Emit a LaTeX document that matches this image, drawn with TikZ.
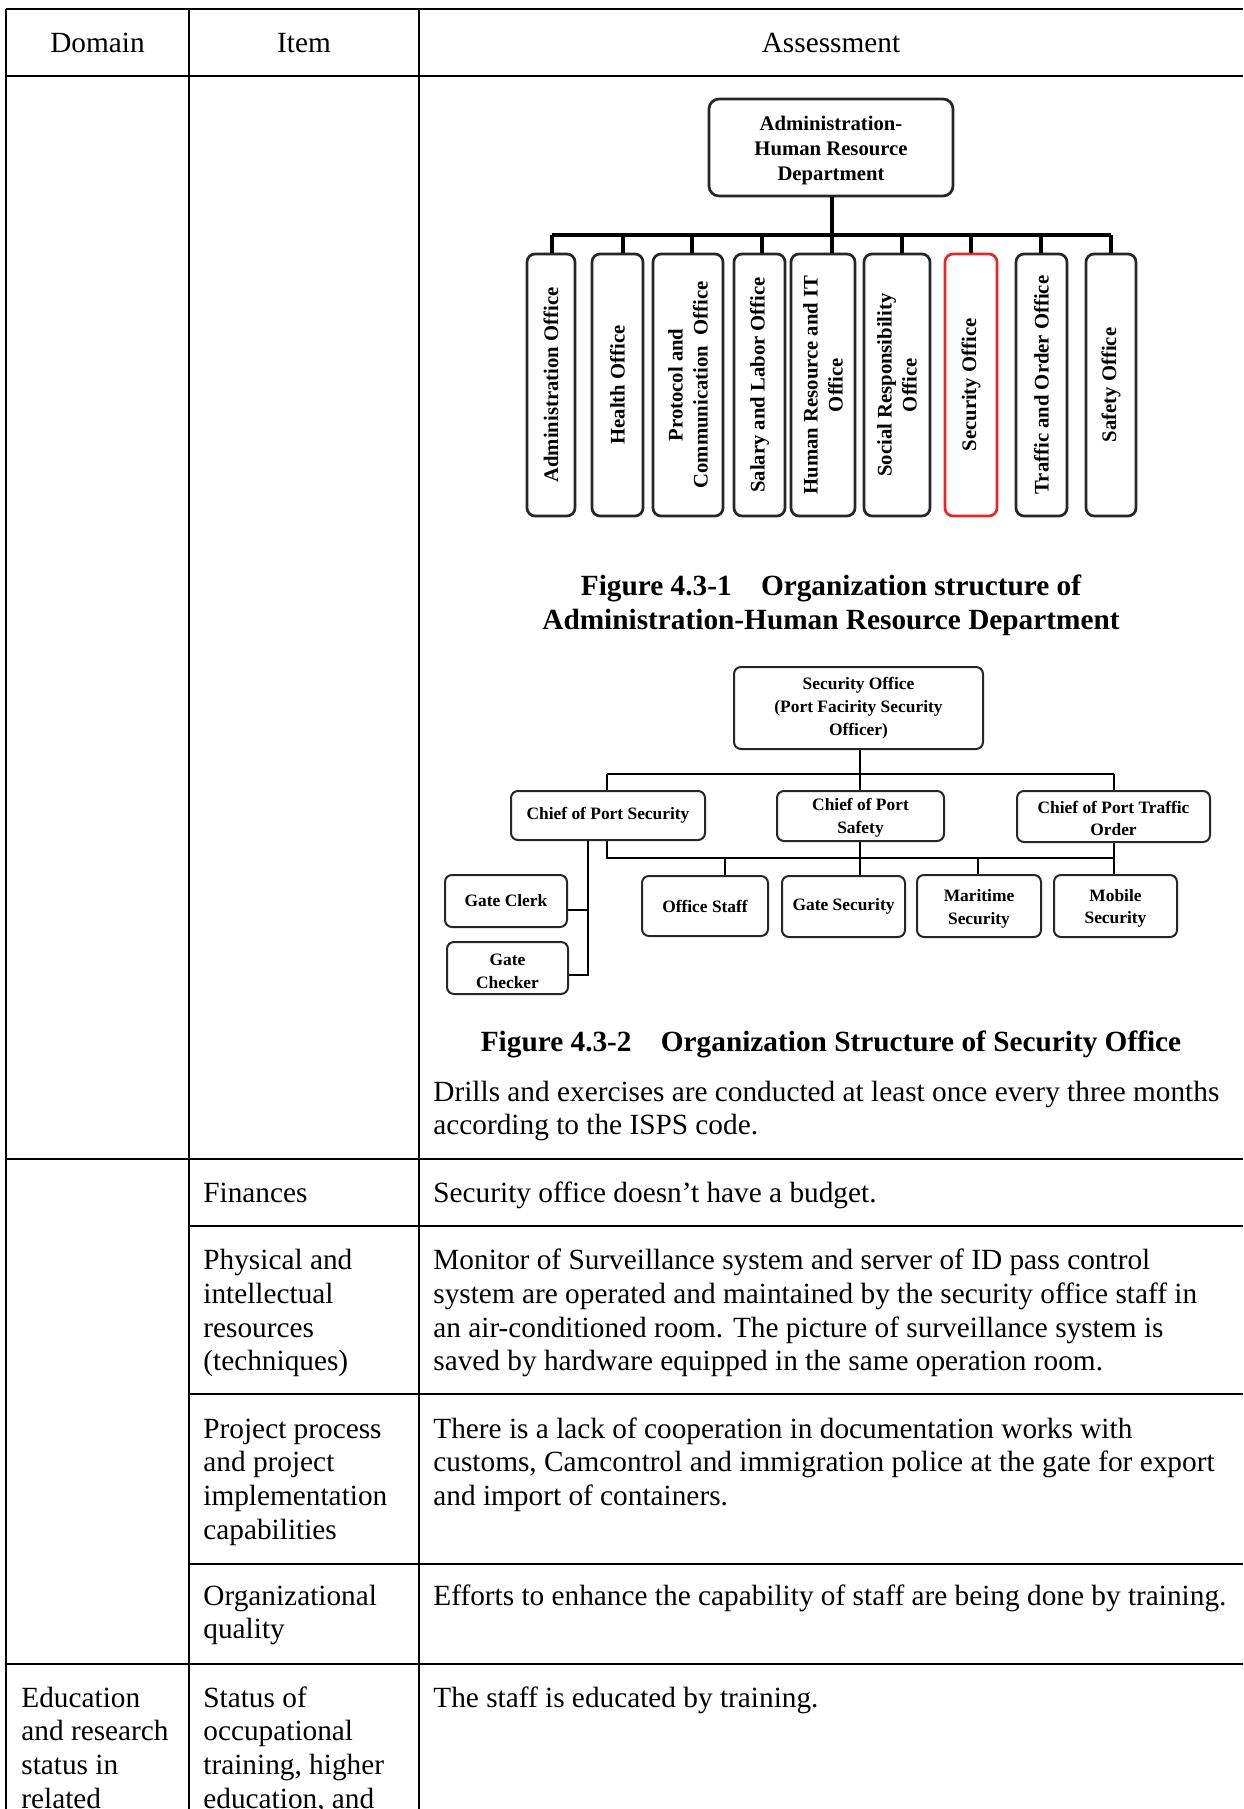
\documentclass[tikz,border=0pt]{standalone}
\usepackage{fontspec}
\setmainfont{Liberation Serif}
\definecolor{boxgray}{gray}{0.15}
\definecolor{secred}{RGB}{232,38,40}
% one text line per node: name prefix, x, first baseline, lines
\newcommand\celllines[4]{%
  \foreach \cellline [count=\k from 0] in {#4}{%
    \node[body,name=#1\k] at (#2,{#3+\k*33.8}) {\cellline};}}
% taller first line, to sit a stacked label a little lower in its box
\newcommand\firstline[1]{\rule{0pt}{#1}}
\begin{document}
\begin{tikzpicture}[x=0.5pt,y=-0.5pt,
  rule/.style={line width=1pt},
  body/.style={font=\fontsize{14.65}{16.9}\selectfont,inner sep=0pt,anchor=base west},
  head/.style={font=\fontsize{14.65}{16.9}\selectfont,inner sep=0pt,anchor=base},
  figcap/.style={font=\fontsize{14.65}{16.9}\selectfont\bfseries,inner sep=0pt,anchor=base},
  wh/.style 2 args={minimum width=#1*0.5pt,minimum height=#2*0.5pt},
  orgA/.style={draw=boxgray,line width=1.35pt,rounded corners=5pt,inner sep=0pt,
    align=center,font=\fontsize{10.35}{12.5}\selectfont\bfseries},
  orgV/.style={orgA,rounded corners=4pt,rotate=90},
  orgB/.style={draw=boxgray,line width=1pt,rounded corners=3.5pt,inner sep=0pt,
    align=center,font=\fontsize{8.7}{11.2}\selectfont\bfseries},
  connA/.style={line width=1.65pt},
  connB/.style={line width=1.4pt}]
\useasboundingbox (0,0) rectangle (1243,1809);
\clip (0,0) rectangle (1243,1809);

% ---- table rules
\draw[rule] (6,9) -- (1243,9);
\draw[rule] (6,76) -- (1243,76);
\draw[rule] (6,1159) -- (1243,1159);
\draw[rule] (189,1226) -- (1243,1226);
\draw[rule] (189,1394) -- (1243,1394);
\draw[rule] (189,1564) -- (1243,1564);
\draw[rule] (6,1664) -- (1243,1664);
\draw[rule] (6,9) -- (6,1809);
\draw[rule] (189,9) -- (189,1809);
\draw[rule] (419,9) -- (419,1809);

% ---- header
\node[head] (hdom) at (97.5,52.5) {Domain};
\node[head] (hitem) at (304,52.5) {Item};
\node[head] (hass) at (831,52.5) {Assessment};

% ---- chart: Administration-Human Resource Department
\node[orgA,wh={244}{97}] (ahr) at (831,147.5) {\firstline{10pt}Administration-\\Human Resource\\Department};
\node[orgV,wh={262}{48}] (o1) at (551,385) {Administration Office};
\node[orgV,wh={262}{51}] (o2) at (617.5,385) {Health Office};
\node[orgV,wh={262}{70}] (o3) at (688,385) {Protocol and\\Communication~~Office};
\node[orgV,wh={262}{51}] (o4) at (759.5,385) {Salary and Labor Office};
\node[orgV,wh={262}{64}] (o5) at (823,385) {Human Resource and IT\\Office};
\node[orgV,wh={262}{66}] (o6) at (897,385) {Social Responsibility\\Office};
\node[orgV,wh={262}{52},draw=secred] (o7) at (971,385) {Security Office};
\node[orgV,wh={262}{51}] (o8) at (1041.5,385) {Traffic and Order Office};
\node[orgV,wh={262}{50}] (o9) at (1111,385) {Safety Office};

\coordinate (d1) at (552,235);
\coordinate (d2) at (623,235);
\coordinate (d3) at (692,235);
\coordinate (d4) at (762,235);
\coordinate (d5) at (832,235);
\coordinate (d6) at (902,235);
\coordinate (d7) at (971,235);
\coordinate (d8) at (1041,235);
\coordinate (d9) at (1111,235);
\draw[connA] (ahr.south -| d5) -- (d5);
\draw[connA] (d1) -- (d9);
\foreach \i in {1,...,9}{\draw[connA] (d\i) -- (o\i.east -| d\i);}

\node[figcap] (cap1a) at (831,595.5) {Figure 4.3-1\quad Organization structure of};
\node[figcap] (cap1b) at (831,629) {Administration-Human Resource Department};

% ---- chart: Security Office
\node[orgB,wh={249}{82},font=\fontsize{8.7}{11.5}\selectfont\bfseries] (sec) at (858.5,708) {Security Office\\(Port Facirity Security\\Officer)};
\node[orgB,wh={194}{49}] (cps) at (608,815.5) {Chief of Port Security};
\node[orgB,wh={167}{50}] (cpsa) at (860.5,816) {\firstline{8pt}Chief of Port\\Safety};
\node[orgB,wh={193}{51}] (cpt) at (1113.5,816.5) {\firstline{8pt}Chief of Port Traffic\\Order};
\node[orgB,wh={126}{60}] (ofs) at (705,906) {Office Staff};
\node[orgB,wh={123}{61}] (gsec) at (843.5,906.5) {Gate Security};
\node[orgB,wh={124}{62}] (mar) at (979,906) {\firstline{9pt}Maritime\\Security};
\node[orgB,wh={123}{62}] (mob) at (1115.5,906) {\firstline{8.5pt}Mobile\\Security};
\node[orgB,wh={122}{52}] (gcl) at (506,901) {Gate Clerk};
\node[orgB,wh={121}{52}] (gch) at (507.5,968) {\firstline{9pt}Gate\\Checker};

\coordinate (ubL) at (607,774);
\coordinate (ubC) at (860,774);
\coordinate (ubR) at (1114,774);
\coordinate (lbL) at (607,858);
\coordinate (lbO) at (725,858);
\coordinate (lbC) at (860,858);
\coordinate (lbM) at (978,858);
\coordinate (lbR) at (1114,858);
\coordinate (gj1) at (588,910);
\coordinate (gj2) at (588,975);
\draw[connB] (sec.south -| ubC) -- (ubC);
\draw[connB] (ubL) -- (ubR);
\draw[connB] (ubL) -- (cps.north -| ubL);
\draw[connB] (ubC) -- (cpsa.north -| ubC);
\draw[connB] (ubR) -- (cpt.north -| ubR);
\draw[connB] (cps.south -| lbL) -- (lbL) -- (lbR);
\draw[connB] (cpt.south -| lbR) -- (mob.north -| lbR);
\draw[connB] (cpsa.south -| lbC) -- (gsec.north -| lbC);
\draw[connB] (lbO) -- (ofs.north -| lbO);
\draw[connB] (lbM) -- (mar.north -| lbM);
\draw[connB] (cps.south -| gj1) -- (gj2) -- (gch.east |- gj2);
\draw[connB] (gj1) -- (gcl.east |- gj1);

\node[figcap] (cap2) at (831,1051) {Figure 4.3-2\quad Organization Structure of Security Office};

% ---- cell texts
\celllines{drl}{433}{1101}{Drills and exercises are conducted at least once every three months,according to the ISPS code.}
\celllines{fin}{203}{1202.5}{Finances}
\celllines{fina}{433}{1202.5}{Security office doesn’t have a budget.}
\celllines{phy}{203}{1269.5}{Physical and,intellectual,resources,(techniques)}
\celllines{phya}{433}{1269.5}{Monitor of Surveillance system and server of ID pass control,system are operated and maintained by the security office staff in,an air-conditioned room. The picture of surveillance system is,saved by hardware equipped in the same operation room.}
\celllines{prj}{203}{1438}{Project process,and project,implementation,capabilities}
\celllines{prja}{433}{1438}{There is a lack of cooperation in documentation works with,{customs, Camcontrol and immigration police at the gate for export},and import of containers.}
\celllines{org}{203}{1605}{Organizational,quality}
\celllines{orga}{433}{1605}{Efforts to enhance the capability of staff are being done by training.}
\celllines{edu}{21}{1707}{Education,and research,status in,related}
\celllines{sta}{203}{1707}{Status of,occupational,{training, higher},{education, and}}
\celllines{edua}{433}{1707}{The staff is educated by training.}
\end{tikzpicture}
\end{document}
